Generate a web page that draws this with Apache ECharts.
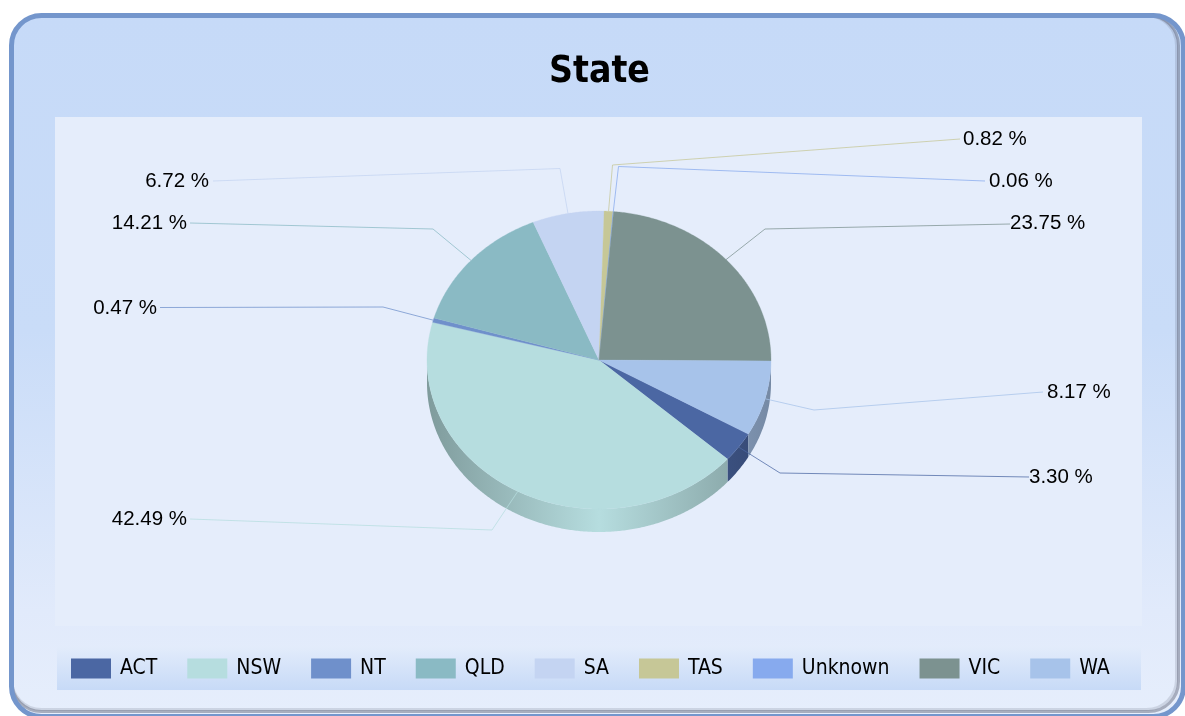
<!DOCTYPE html>
<html><head><meta charset="utf-8">
<style>html,body{margin:0;padding:0;background:#fff}#c{width:1185px;height:716px}</style>
<script src="https://cdn.jsdelivr.net/npm/echarts@6/dist/echarts.min.js"></script>
</head><body><div id="c"></div>
<script>
const states = ['ACT','NSW','NT','QLD','SA','TAS','Unknown','VIC','WA'];
const shares = [3.30,42.49,0.47,14.21,6.72,0.82,0.06,23.75,8.17];
const palette = ['#4b67a3','#b6dddf','#6f90cb','#8abac4','#c4d4f2','#c6c797','#87aaee','#7c9290','#a7c3ea'];

const PIE = {cx:599, cy:360, rx:172, ry:149, depth:23, start:119.8};
// elbow and end of every leader line, and anchor of its label
const leaders = {
  ACT:{elbow:[780,473],end:[1029,477],text:[1029,477,'left']},
  NSW:{elbow:[492,530],end:[190,519],text:[187,519,'right']},
  NT:{elbow:[383,307],end:[160,307.5],text:[157,308,'right']},
  QLD:{elbow:[433,229],end:[190,223],text:[187,223,'right']},
  SA:{elbow:[560,168.5],end:[213,181],text:[209,181,'right']},
  TAS:{elbow:[612.5,165],end:[960,139],text:[963,139,'left']},
  Unknown:{elbow:[618.5,166.5],end:[985,181],text:[989,181,'left']},
  VIC:{elbow:[765,229],end:[1010,224],text:[1010,223,'left']},
  WA:{elbow:[814,410],end:[1043,392],text:[1047,392,'left']}
};

const total = shares.reduce((a,b)=>a+b,0);
const angles = []; let acc = PIE.start;
shares.forEach(v=>{const a0=acc; acc+=v/total*360; angles.push([a0,acc]);});
const pt = (deg,dy=0)=>{const t=deg*Math.PI/180;return [PIE.cx+PIE.rx*Math.sin(t),PIE.cy-PIE.ry*Math.cos(t)+dy];};
const arc = (a0,a1,dy=0)=>{const n=Math.max(2,Math.ceil((a1-a0)/0.5));const p=[];for(let i=0;i<=n;i++)p.push(pt(a0+(a1-a0)*i/n,dy));return p;};
const shade=(hex,f)=>{const n=parseInt(hex.slice(1),16);const c=[n>>16,(n>>8)&255,n&255].map(x=>Math.round(x*f));return `rgb(${c.join(',')})`;};

function renderSlice(i){
  return function(params,api){
    const value=api.value(0);
    const [a0,a1]=angles[i];
    const color=palette[i];
    const children=[];
    // wall: visible for the lower half of the ellipse only
    const wrap=a0>=360?360:0;
    const s=Math.max(a0-wrap,90), e=Math.min(a1-wrap,270);
    if(e>s){
      const pts=arc(s,e,0).concat(arc(s,e,PIE.depth).reverse());
      children.push({type:'polygon',z2:1,shape:{points:pts},style:{
        fill:new echarts.graphic.LinearGradient(PIE.cx-PIE.rx,0,PIE.cx+PIE.rx,0,[
          {offset:0,color:shade(color,0.70)},
          {offset:0.5,color:color},
          {offset:1,color:shade(color,0.70)}],true)}});
    }
    const top=[[PIE.cx,PIE.cy]].concat(arc(a0,a1,0));
    children.push({type:'polygon',z2:2,shape:{points:top},style:{fill:color,stroke:color,lineWidth:0.3}});
    const L=leaders[states[i]];
    const mid=pt((a0+a1)/2);
    children.push({type:'polyline',z2:3,shape:{points:[mid,L.elbow,L.end]},style:{stroke:color,lineWidth:1,opacity:0.75,fill:null}});
    children.push({type:'text',z2:4,style:{text:value.toFixed(2)+' %',x:L.text[0],y:L.text[1],align:L.text[2],verticalAlign:'middle',
      fill:'#000',font:'20.5px "Liberation Sans", Arial, sans-serif'}});
    return {type:'group',children};
  };
}

const series = states.map((name,i)=>({
  name, type:'custom', coordinateSystem:'none', silent:true,
  z:5,
  itemStyle:{color:palette[i]},
  data:[[shares[i]]],
  renderItem:renderSlice(i)
}));

const frame = {x:11.5,y:15.5,width:1172,height:701,r:30};
const inset = d=>({x:frame.x,y:frame.y,width:frame.width-d,height:frame.height-d,r:30});
const option = {
  animation:false,
  backgroundColor:'#fff',
  title:{text:'State',left:594.5,top:67,textAlign:'center',textVerticalAlign:'middle',
    textStyle:{fontFamily:'"DejaVu Sans Condensed"',fontWeight:'bold',fontSize:37,color:'#000'}},
  legend:{data:states.map(n=>({name:n,icon:'rect'})),left:71,top:658,itemWidth:40,itemHeight:20,itemGap:30,
    selectedMode:false,textStyle:{fontFamily:'"DejaVu Sans Condensed","DejaVu Sans"',fontSize:21,color:'#000',padding:[0,0,0,4]},padding:0},
  graphic:[
    {type:'rect',z:-11,shape:frame,
      style:{fill:new echarts.graphic.LinearGradient(0,0,0,1,[
        {offset:0,color:'#c6daf8'},{offset:0.45,color:'#c9dcf8'},{offset:0.85,color:'#e1eafb'},{offset:1,color:'#e6eefc'}])}},
    // soft inner shadow along the right and bottom edges only
    {type:'rect',z:-10.2,shape:inset(7),style:{fill:null,stroke:'rgba(90,95,115,0.18)',lineWidth:3}},
    {type:'rect',z:-10,shape:inset(5),style:{fill:null,stroke:'rgba(90,95,115,0.45)',lineWidth:3}},
    {type:'rect',z:-9.5,shape:frame,style:{fill:null,stroke:'#7496cc',lineWidth:5}},
    {type:'rect',z:-9,shape:{x:55,y:117,width:1087,height:509},style:{fill:'#e5edfb'}},
    {type:'rect',z:-9,shape:{x:57,y:646,width:1084,height:44},
      style:{fill:new echarts.graphic.LinearGradient(0,0,0,1,[{offset:0,color:'#e3ecfb'},{offset:1,color:'#c7daf7'}])}}
  ],
  series
};
const chart = echarts.init(document.getElementById('c'),null,{renderer:'canvas'});
chart.setOption(option);
</script></body></html>
